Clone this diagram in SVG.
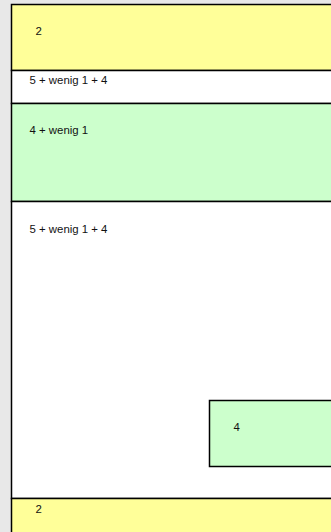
<svg xmlns="http://www.w3.org/2000/svg" width="331" height="532" viewBox="0 0 331 532">
<style>
.box{stroke:#000;stroke-width:1.5}
.y{fill:#ffff99}
.g{fill:#ccffcc}
.w{fill:#ffffff}
text{font-family:"Liberation Sans",Arial,sans-serif;font-size:11.4px;fill:#111}
</style>
<rect x="0" y="0" width="331" height="532" fill="#e8e8e8"/>
<g id="top">
<rect class="box y" x="11.5" y="4.5" width="330" height="66"/>
<text x="35.5" y="35">2</text>
</g>
<g id="row1">
<rect class="box w" x="11.5" y="70.5" width="330" height="33"/>
<text x="29.5" y="84">5 + wenig 1 + 4</text>
</g>
<g id="green1">
<rect class="box g" x="11.5" y="103.5" width="330" height="98"/>
<text x="29.5" y="133.5">4 + wenig 1</text>
</g>
<g id="main">
<rect class="box w" x="11.5" y="201.5" width="330" height="297"/>
<text x="29.5" y="233">5 + wenig 1 + 4</text>
</g>
<g id="small">
<rect class="box g" x="209.5" y="400.5" width="130" height="66"/>
<text x="233.5" y="430.5">4</text>
</g>
<g id="bottom">
<rect class="box y" x="11.5" y="498.5" width="330" height="40"/>
<text x="35.5" y="512.5">2</text>
</g>
<g id="connectors"></g>
</svg>
